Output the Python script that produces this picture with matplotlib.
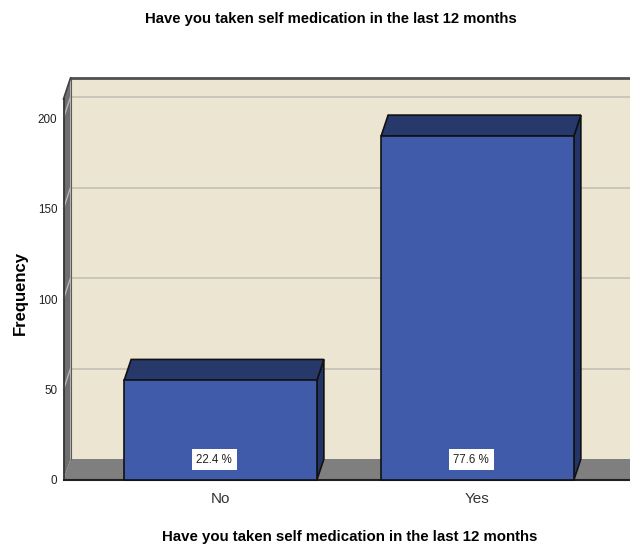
import matplotlib
matplotlib.use("Agg")
import matplotlib.pyplot as plt
from matplotlib.patches import Rectangle, Polygon

# data
categories = ["No", "Yes"]
frequency = [55, 190]
percent_labels = ["22.4 %", "77.6 %"]
y_ticks = [0, 50, 100, 150, 200]
title = "Have you taken self medication in the last 12 months"

WALL = "#ECE5D2"
FLOOR = "#7F7F7F"
BAR_FRONT = "#3F5BA9"
BAR_TOP = "#27386B"
BAR_SIDE = "#233468"
EDGE = "#111111"
GRID = "#C4C0B4"
FONT = ["Liberation Sans", "DejaVu Sans"]

fig = plt.figure(figsize=(6.3, 5.46), dpi=100)
fig.patch.set_facecolor("white")

# axes = front plane of the 3d box
ax = fig.add_axes([63.5 / 630, 66 / 546, 571 / 630, 381 / 546])
x0, x1 = -0.611, 1.611
ytop = 210.5
ax.set_xlim(x0, x1)
ax.set_ylim(0, ytop)
ax.patch.set_visible(False)
for s in ax.spines.values():
    s.set_visible(False)

# depth of the box in data units (7 px right, 21 px up)
p0 = ax.transData.transform((0, 0))
inv = ax.transData.inverted()
dx, dy = inv.transform((p0[0] + 7, p0[1] + 21)) - inv.transform(p0)


def back(x, y):
    return (x + dx, y + dy)


def poly(pts, fc, ec="none", lw=0.0, z=1):
    ax.add_patch(Polygon(pts, closed=True, facecolor=fc, edgecolor=ec,
                         linewidth=lw, zorder=z, clip_on=False))


# back wall, floor, left side panel
ax.add_patch(Rectangle(back(x0, 0), x1 - x0 + 0.1, ytop, facecolor=WALL,
                       edgecolor="none", zorder=0, clip_on=False))
poly([(x0, 0), (x1 + 0.1, 0), back(x1 + 0.1, 0), back(x0, 0)], FLOOR, z=1)
poly([(x0, 0), (x0, ytop), back(x0, ytop), back(x0, 0)], "#6E6E6E", z=1)

for t in y_ticks[1:]:
    bx, by = back(x0, t)
    ax.plot([bx, x1 + 0.1], [by, by], color=GRID, lw=1.2, zorder=0.5, clip_on=False)
    ax.plot([x0, bx], [t, by], color="#B8B8B8", lw=1.0, zorder=1.5, clip_on=False)

# edges of the box
bx, by = back(x0, ytop)
ax.plot([bx, x1 + 0.1], [by, by], color="#505050", lw=2.0, zorder=2, clip_on=False)
ax.plot([x0, bx], [ytop, by], color="#404040", lw=1.2, zorder=2, clip_on=False)
ax.plot([bx, bx], [by, back(x0, 0)[1]], color="#5A5A5A", lw=0.8, zorder=1.6, clip_on=False)
ax.plot([x0, x0], [0, ytop], color="#303030", lw=1.2, zorder=2, clip_on=False)
ax.plot([x0, x1 + 0.1], [0, 0], color="#202020", lw=1.5, zorder=2, clip_on=False)

# 3d bars
w = 0.75
for i, v in enumerate(frequency):
    l, r = i - w / 2, i + w / 2
    poly([(r, 0), (r, v), back(r, v), back(r, 0)], BAR_SIDE, EDGE, 1.2, z=3)
    poly([(l, v), (r, v), back(r, v), back(l, v)], BAR_TOP, EDGE, 1.2, z=3)
    ax.add_patch(Rectangle((l, 0), w, v, facecolor=BAR_FRONT, edgecolor=EDGE,
                           linewidth=1.2, zorder=4, clip_on=False))
    ax.text(i - 0.025, 11.3, percent_labels[i], ha="center", va="center",
            fontsize=8.3, family=FONT, color="#222222", zorder=5,
            bbox=dict(boxstyle="square,pad=0.4", fc="white", ec="none"))

ax.set_xticks(range(len(categories)))
ax.set_xticklabels(categories, family=FONT, fontsize=11, color="#333333")
ax.set_yticks(y_ticks)
ax.set_yticklabels([str(t) for t in y_ticks], family=FONT, fontsize=8.4, color="#222222")
ax.tick_params(axis="both", length=0)
ax.tick_params(axis="y", pad=4.5)
ax.tick_params(axis="x", pad=8.5)

fig.text(331 / 630, 1 - 19 / 546, title, ha="center", va="center",
         fontsize=10.75, fontweight="bold", family=FONT)
fig.text(349.5 / 630, 1 - 537 / 546, title, ha="center", va="center",
         fontsize=10.8, fontweight="bold", family=FONT)
fig.text(20 / 630, 1 - 293 / 546, "Frequency", ha="center", va="center",
         rotation=90, fontsize=12, fontweight="bold", family=FONT)

fig.savefig("out.png", dpi=100)
